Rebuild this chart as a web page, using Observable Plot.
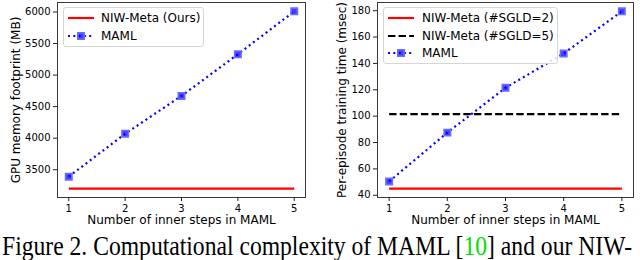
<!DOCTYPE html>
<html><head><meta charset="utf-8">
<script src="https://cdn.jsdelivr.net/npm/d3@7"></script>
<script src="https://cdn.jsdelivr.net/npm/@observablehq/plot@0.6"></script>
<style>
body{margin:0;background:#fff;}
#wrap{position:relative;width:640px;height:260px;overflow:hidden;font-family:"DejaVu Sans",sans-serif;}
.panel{position:absolute;top:0;}
.legend{position:absolute;background:rgba(255,255,255,0.85);border:1px solid #d6d6d6;border-radius:3px;}
.row{position:absolute;left:0;height:16px;font-size:12px;line-height:16px;white-space:nowrap;color:#000;}
.row svg{position:absolute;left:3px;top:3px;}
.row span{position:absolute;}
.caption{position:absolute;left:2px;top:233px;font-family:"Liberation Serif",serif;font-size:27px;line-height:27px;white-space:nowrap;color:#000;transform-origin:0 0;}
.caption .ref{color:#00dd00;}
</style></head>
<body>
<div id="wrap">
  <div id="p1" class="panel" style="left:0"></div>
  <div id="p2" class="panel" style="left:320px"></div>
  <div id="leg1" class="legend" style="left:63px;top:7px;width:139px;height:38px;"></div>
  <div id="leg2" class="legend" style="left:383px;top:7px;width:173px;height:55px;"></div>
  <div id="cap" class="caption">Figure 2. Computational complexity of MAML [<span class="ref">10</span>] and our NIW-</div>
</div>
<script>
const steps = [1, 2, 3, 4, 5];
const mamlMemory = [3390, 4070, 4670, 5330, 6010];
const niwMemory = [3200, 3200, 3200, 3200, 3200];
const mamlTime = [50.5, 87.5, 121.5, 147.5, 179.5];
const niwTimeSgld2 = [45, 45, 45, 45, 45];
const niwTimeSgld5 = [101.5, 101.5, 101.5, 101.5, 101.5];
const xTicks = [1, 2, 3, 4, 5];
const memTicks = [3500, 4000, 4500, 5000, 5500, 6000];
const timeTicks = [40, 60, 80, 100, 120, 140, 160, 180];
const xLabel = "Number of inner steps in MAML";
const memLabel = "GPU memory footprint (MB)";
const timeLabel = "Per-episode training time (msec)";

const BLUE = "#0000ff";
const toRows = (ys) => steps.map((s, i) => ({x: s, y: ys[i]}));

function panel({yDomain, yTicks, yLabel, series, marginLeft, marginRight, yLabelDx}) {
  const marks = [
    Plot.frame({stroke: "#3a3a3a", strokeWidth: 1}),
    Plot.axisX({ticks: xTicks, tickFormat: d => String(d), tickSize: 4, tickPadding: 3, fontSize: 10, label: null, stroke: "#222"}),
    Plot.axisY({ticks: yTicks, tickFormat: d => String(d), tickSize: 4, tickPadding: 3, fontSize: 10, label: null, stroke: "#222"}),
    Plot.text([xLabel], {frameAnchor: "bottom", dy: 23, lineAnchor: "middle", textAnchor: "middle", fontSize: 12, fill: "#000"}),
    Plot.text([yLabel], {frameAnchor: "left", dx: yLabelDx, rotate: -90, lineAnchor: "middle", textAnchor: "middle", fontSize: 12, fill: "#000"})
  ];
  for (const s of series) {
    const data = toRows(s.values);
    marks.push(Plot.line(data, {x: "x", y: "y", stroke: s.color, strokeWidth: 2.2, strokeDasharray: s.dash, strokeLinecap: "butt"}));
    if (s.marker) {
      marks.push(Plot.dot(data, {x: "x", y: "y", symbol: "square", r: 3.6, fill: BLUE, fillOpacity: 0.75, stroke: "#6b6bff", strokeWidth: 1.6}));
    }
  }
  return Plot.plot({
    width: 320,
    height: 232,
    marginLeft, marginRight, marginTop: 2, marginBottom: 35,
    style: {fontFamily: "DejaVu Sans", fontSize: "10px", color: "#000", background: "transparent", overflow: "visible"},
    x: {domain: [0.8, 5.2]},
    y: {domain: yDomain},
    marks
  });
}

document.getElementById("p1").append(panel({
  yDomain: [3059.5, 6150.5], yTicks: memTicks, yLabel: memLabel, marginLeft: 57, marginRight: 15, yLabelDx: -41,
  series: [
    {values: niwMemory, color: "#ff0000"},
    {values: mamlMemory, color: BLUE, dash: "2,3.3", marker: true}
  ]
}));
document.getElementById("p2").append(panel({
  yDomain: [38.3, 186.2], yTicks: timeTicks, yLabel: timeLabel, marginLeft: 57, marginRight: 7, yLabelDx: -35,
  series: [
    {values: niwTimeSgld2, color: "#ff0000"},
    {values: niwTimeSgld5, color: "#000000", dash: "7.4,3.2"},
    {values: mamlTime, color: BLUE, dash: "2,3.3", marker: true}
  ]
}));

function legend(el, items, textLeft) {
  items.forEach((it, i) => {
    const row = document.createElement("div");
    row.className = "row";
    row.style.top = (2 + i * 17.5) + "px";
    row.style.width = "100%";
    const ns = "http://www.w3.org/2000/svg";
    const svg = document.createElementNS(ns, "svg");
    svg.setAttribute("width", 28); svg.setAttribute("height", 10);
    const ln = document.createElementNS(ns, "line");
    ln.setAttribute("x1", 1); ln.setAttribute("x2", 27); ln.setAttribute("y1", 5); ln.setAttribute("y2", 5);
    ln.setAttribute("stroke", it.color); ln.setAttribute("stroke-width", 2.2);
    if (it.dash) ln.setAttribute("stroke-dasharray", it.dash);
    svg.append(ln);
    if (it.marker) {
      const r = document.createElementNS(ns, "rect");
      r.setAttribute("x", 10.8); r.setAttribute("y", 1.8); r.setAttribute("width", 6.4); r.setAttribute("height", 6.4);
      r.setAttribute("fill", BLUE); r.setAttribute("fill-opacity", 0.75); r.setAttribute("stroke", "#6b6bff"); r.setAttribute("stroke-width", 1.6);
      svg.append(r);
    }
    row.append(svg);
    const sp = document.createElement("span");
    sp.style.left = textLeft + "px";
    sp.textContent = it.label;
    row.append(sp);
    el.append(row);
  });
}
legend(document.getElementById("leg1"), [
  {label: "NIW-Meta (Ours)", color: "#ff0000"},
  {label: "MAML", color: BLUE, dash: "2,3.3", marker: true}
], 37);
legend(document.getElementById("leg2"), [
  {label: "NIW-Meta (#SGLD=2)", color: "#ff0000"},
  {label: "NIW-Meta (#SGLD=5)", color: "#000", dash: "7.4,3.2"},
  {label: "MAML", color: BLUE, dash: "2,3.3", marker: true}
], 38);

// fit the caption line to the reference's width (text appears horizontally compressed)
const cap = document.getElementById("cap");
const capW = cap.getBoundingClientRect().width;
cap.style.transform = `scaleX(${Math.min(1, 630 / capW)})`;
</script>
</body></html>
